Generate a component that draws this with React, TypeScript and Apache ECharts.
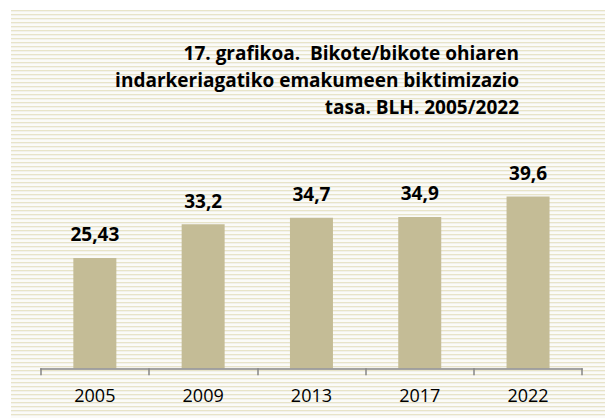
import React, { useEffect, useRef } from "react";
import * as echarts from "echarts";

const categories = ["2005", "2009", "2013", "2017", "2022"];
const values = [25.43, 33.2, 34.7, 34.9, 39.6];
const valueLabels = ["25,43", "33,2", "34,7", "34,9", "39,6"];
const titleLines = [
  "17. grafikoa.  Bikote/bikote ohiaren",
  "indarkeriagatiko emakumeen biktimizazio",
  "tasa. BLH. 2005/2022",
];

const FONT = "'Open Sans', 'Noto Sans', sans-serif";

export default function App() {
  const ref = useRef<HTMLDivElement>(null);
  useEffect(() => {
    if (!ref.current) return;
    const chart = echarts.init(ref.current, null, { renderer: "svg" });
    chart.setOption({
      animation: false,
      backgroundColor: "transparent",
      graphic: [
        {
          type: "text",
          z: 10,
          style: {
            text: titleLines.join("\n"),
            x: 519,
            y: 39,
            align: "right",
            verticalAlign: "top",
            font: `bold 19px ${FONT}`,
            lineHeight: 27,
            fill: "#000000",
          },
        },
      ],
      grid: { left: 40.7, right: 22.8, top: 151.4, bottom: 49.7 },
      xAxis: {
        type: "category",
        data: categories,
        z: 5,
        axisLine: { show: true, lineStyle: { color: "#868686", width: 1.5 } },
        axisTick: { show: true, length: 7, lineStyle: { color: "#868686", width: 1.5 } },
        axisLabel: { color: "#000000", fontSize: 18, fontFamily: FONT, margin: 18 },
      },
      yAxis: {
        type: "value",
        min: 0,
        max: 50,
        show: false,
        splitLine: { show: false },
      },
      series: [
        {
          type: "bar",
          data: values,
          barWidth: 43,
          itemStyle: { color: "#c4bc96" },
          label: {
            show: true,
            position: "top",
            distance: 14,
            formatter: (p: any) => valueLabels[p.dataIndex],
            fontWeight: "bold",
            fontSize: 19,
            fontFamily: FONT,
            color: "#000000",
          },
        },
      ],
    });
    return () => chart.dispose();
  }, []);
  return (
    <div style={{ width: 605, height: 418, position: "absolute", left: 0, top: 0, background: "#ffffff", overflow: "hidden" }}>
      <div
        style={{
          position: "absolute",
          left: 11,
          top: 10,
          width: 594,
          height: 408,
          background:
            "repeating-linear-gradient(to bottom, #e8e4c8 0px, #e8e4c8 1px, #f2f1ec 1px, #f2f1ec 2px, #fbfbf8 2px, #fbfbf8 4px)",
        }}
      />
      <div ref={ref} style={{ width: 605, height: 418, position: "absolute", left: 0, top: 0 }} />
    </div>
  );
}
